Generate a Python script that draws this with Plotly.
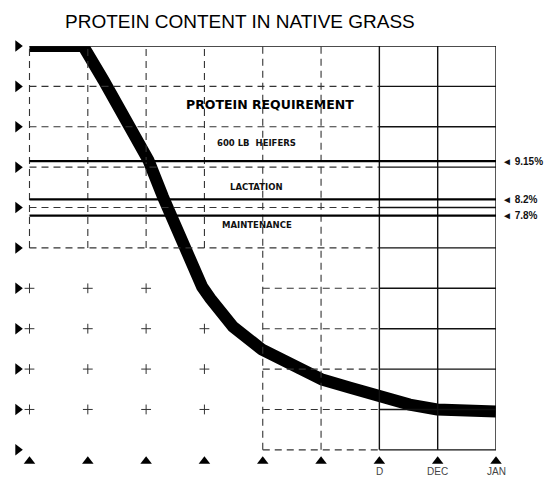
import plotly.graph_objects as go

# ---- data ----
month_pos = [0, 1, 2, 3, 4, 5, 6, 7, 8]
month_labels = ["", "", "", "", "", "", "D", "DEC", "JAN"]
protein_levels = [2, 3, 4, 5, 6, 7, 8, 9, 10, 11, 12]

curve_x = [0, 0.92, 1.27, 1.68, 2.04, 2.29, 2.53, 2.76, 2.96, 3.10, 3.49, 3.99,
           4.64, 5.02, 5.50, 5.96, 6.52, 6.99, 8.0]
curve_y = [12.0, 12.0, 11.15, 10.09, 9.17, 8.26, 7.44, 6.63, 6.04, 5.75, 5.05, 4.48,
           4.04, 3.74, 3.54, 3.32, 3.12, 3.0, 2.95]

req_names = ["600 LB  HEIFERS", "LACTATION", "MAINTENANCE"]
req_values = [9.15, 8.2, 7.8]
req_labels = ["◄ 9.15%", "◄ 8.2%", "◄ 7.8%"]
req_text_y = [9.59, 8.51, 7.57]

fig = go.Figure()

shapes = []
dash = "7px,5px"
# vertical grid lines
for x in month_pos:
    if x <= 3:
        shapes.append(dict(type="line", x0=x, x1=x, y0=7, y1=12,
                           line=dict(color="#333", width=1.1, dash=dash)))
    elif x <= 5:
        shapes.append(dict(type="line", x0=x, x1=x, y0=2, y1=12,
                           line=dict(color="#333", width=1.1, dash=dash)))
    else:
        shapes.append(dict(type="line", x0=x, x1=x, y0=2, y1=12,
                           line=dict(color="#111", width=1.4)))
# horizontal grid lines
for y in protein_levels:
    if y == 12:
        shapes.append(dict(type="line", x0=0, x1=8, y0=y, y1=y,
                           line=dict(color="#111", width=1.6)))
        continue
    x_start = 0 if y >= 7 else 4
    shapes.append(dict(type="line", x0=x_start, x1=6, y0=y, y1=y,
                       line=dict(color="#333", width=1.1, dash=dash)))
    shapes.append(dict(type="line", x0=6, x1=8, y0=y, y1=y,
                       line=dict(color="#111", width=1.4)))
# requirement lines
for v in req_values:
    shapes.append(dict(type="line", x0=0, x1=8, y0=v, y1=v,
                       line=dict(color="#000", width=2.2)))

# crosses in sparse lower-left region
cx, cy = [], []
for x in [0, 1, 2, 3]:
    for y in [3, 4, 5, 6]:
        cx.append(x)
        cy.append(y)
fig.add_trace(go.Scatter(x=cx, y=cy, mode="markers", hoverinfo="skip",
                         marker=dict(symbol="cross-thin", size=7,
                                     line=dict(color="#333", width=1)),
                         showlegend=False))

# protein curve
fig.add_trace(go.Scatter(x=curve_x, y=curve_y, mode="lines",
                         line=dict(color="#000", width=12),
                         showlegend=False, hoverinfo="skip"))

# left edge triangles
fig.add_trace(go.Scatter(x=[-0.2] * len(protein_levels), y=protein_levels, mode="markers",
                         marker=dict(symbol="triangle-right", size=10, color="#000"),
                         cliponaxis=False, showlegend=False, hoverinfo="skip"))
# bottom triangles
fig.add_trace(go.Scatter(x=month_pos, y=[1.72] * len(month_pos), mode="markers",
                         marker=dict(symbol="triangle-up", size=10, color="#000"),
                         cliponaxis=False, showlegend=False, hoverinfo="skip"))

annotations = []
annotations.append(dict(x=4.13, y=10.56, text="<b>PROTEIN REQUIREMENT</b>", showarrow=False,
                        font=dict(family="DejaVu Sans", size=12.5, color="#000"),
                        xanchor="center", yanchor="middle"))
for name, ty in zip(req_names, req_text_y):
    annotations.append(dict(x=3.9, y=ty, text="<b>" + name + "</b>", showarrow=False,
                            font=dict(family="DejaVu Sans", size=8.5, color="#111"),
                            xanchor="center", yanchor="middle"))
for lab, v in zip(req_labels, req_values):
    annotations.append(dict(x=8, y=v, text="<b>" + lab + "</b>", showarrow=False,
                            xanchor="left", xshift=4,
                            font=dict(family="Liberation Sans", size=10, color="#111"),
                            yanchor="middle"))
for x, lab in zip(month_pos, month_labels):
    if lab:
        annotations.append(dict(x=x, y=1.6, yshift=-5, text=lab, showarrow=False,
                                font=dict(family="Liberation Sans", size=10, color="#444"),
                                xanchor="center", yanchor="middle"))
annotations.append(dict(xref="paper", yref="paper", x=(240 - 11.5) / 484.5,
                        y=1 + (46 - 21) / 420.2,
                        text="PROTEIN CONTENT IN NATIVE GRASS", showarrow=False,
                        font=dict(family="Liberation Sans", size=19, color="#000"),
                        xanchor="center", yanchor="middle"))

fig.update_layout(
    width=550, height=469,
    margin=dict(l=3.5, r=62, t=38, b=10.8),
    paper_bgcolor="white", plot_bgcolor="white",
    shapes=shapes, annotations=annotations,
    xaxis=dict(range=[-0.3, 8], showgrid=False, zeroline=False, showticklabels=False,
               ticks="", showline=False),
    yaxis=dict(range=[1.6, 12], showgrid=False, zeroline=False, showticklabels=False,
               ticks="", showline=False),
)

fig.write_html("out.html")
